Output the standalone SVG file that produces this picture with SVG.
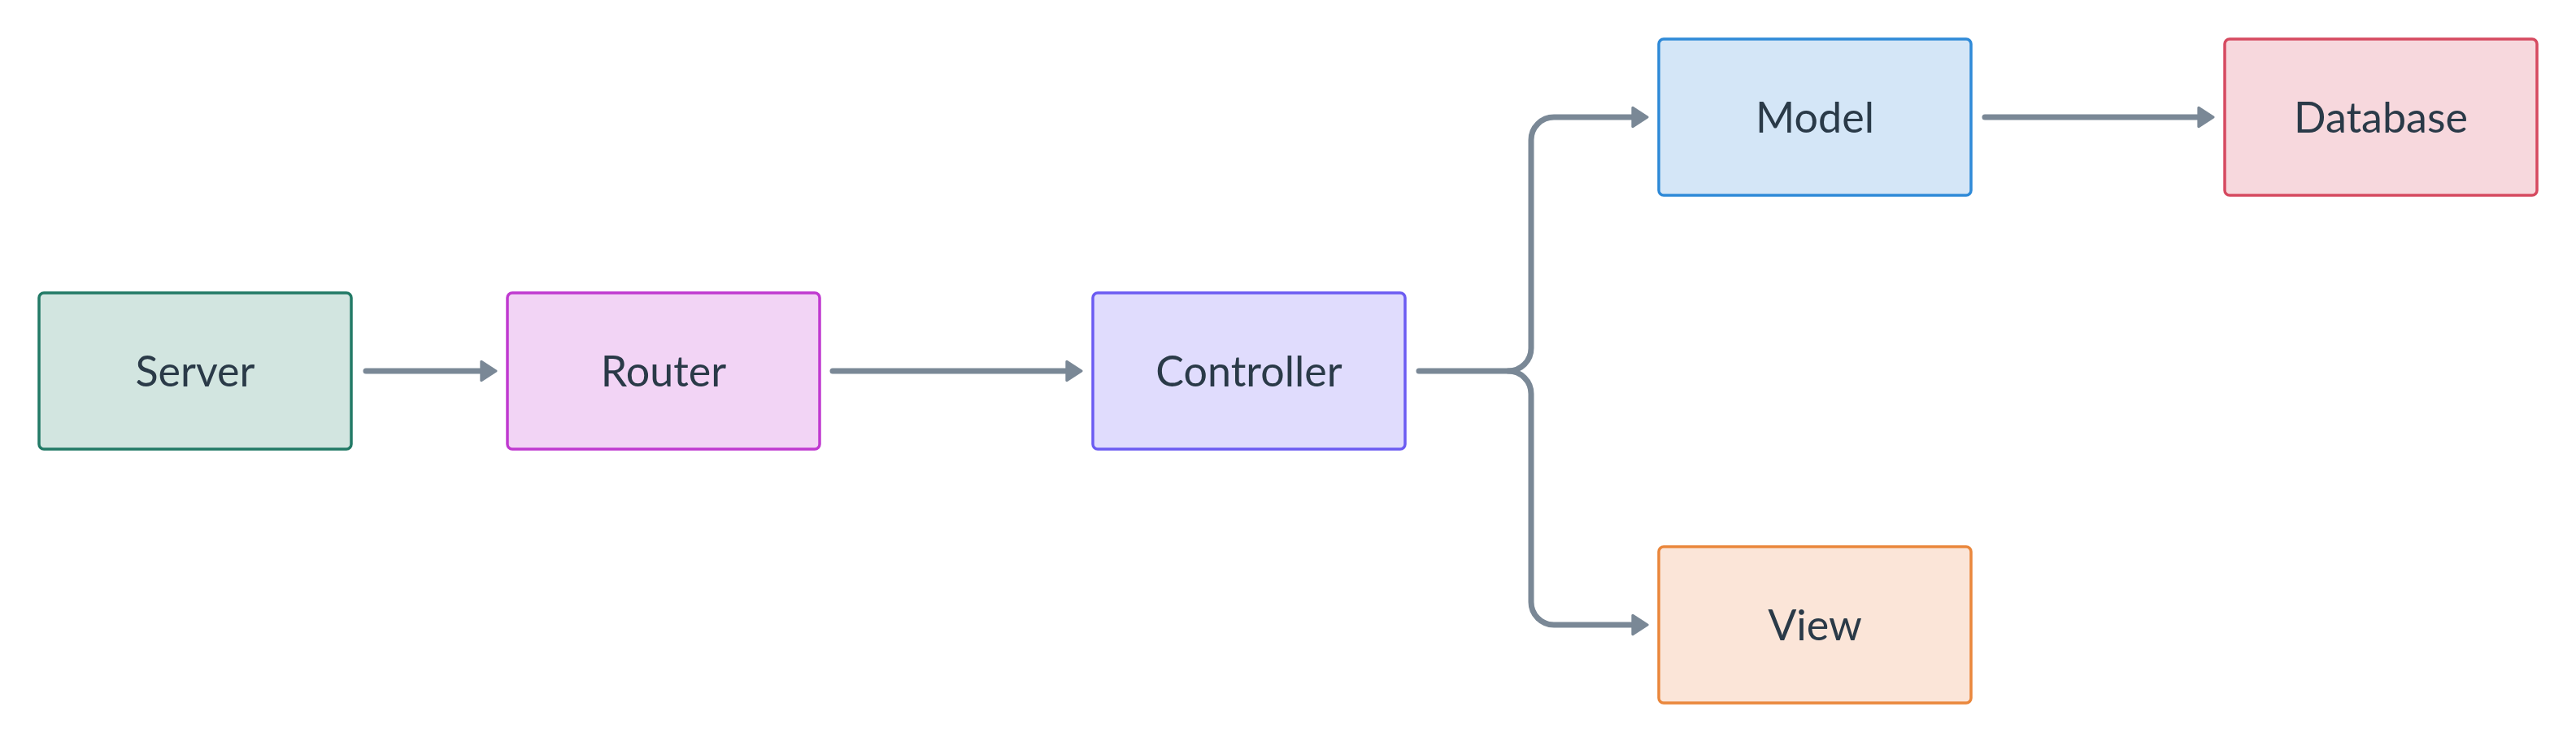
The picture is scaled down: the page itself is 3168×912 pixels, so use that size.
<svg xmlns="http://www.w3.org/2000/svg" width="3168" height="912" viewBox="0 0 3168 912">
<style>
.node rect{stroke-width:3.5}
.node text{font-family:Lato,"Liberation Sans",sans-serif;font-size:52px;fill:#2a3a48;text-anchor:middle}
.edge{fill:none;stroke:#7a8896;stroke-width:7;stroke-linecap:round;stroke-linejoin:round;marker-end:url(#arrow)}
</style>
<defs>
<marker id="arrow" markerUnits="userSpaceOnUse" markerWidth="30" markerHeight="34" viewBox="-4 -16 26 32" refX="1" refY="0" orient="auto">
<path d="M0,-11 L17,0 L0,11 Z" fill="#7a8896" stroke="#7a8896" stroke-width="3" stroke-linejoin="round"/>
</marker>
</defs>
<rect width="3168" height="912" fill="#ffffff"/>
<g id="connectors">
<path class="edge" d="M450,456 L593,456"/>
<path class="edge" d="M1024,456 L1313,456"/>
<path class="edge" d="M1745,456 L1855,456 A28,28 0 0 0 1883,428 L1883,172 A28,28 0 0 1 1911,144 L2009,144"/>
<path class="edge" d="M1855,456 A28,28 0 0 1 1883,484 L1883,740 A28,28 0 0 0 1911,768 L2009,768"/>
<path class="edge" d="M2441,144 L2705,144"/>
</g>
<g id="server" class="node">
<rect x="48" y="360" width="384" height="192" rx="6" fill="#d2e5e0" stroke="#227a66"/>
<text x="240" y="475">Server</text>
</g>
<g id="router" class="node">
<rect x="624" y="360" width="384" height="192" rx="6" fill="#f2d4f5" stroke="#c03ad0"/>
<text x="816" y="475">Router</text>
</g>
<g id="controller" class="node">
<rect x="1344" y="360" width="384" height="192" rx="6" fill="#e0dcfd" stroke="#6c5cf2"/>
<text x="1536" y="475">Controller</text>
</g>
<g id="model" class="node">
<rect x="2040" y="48" width="384" height="192" rx="6" fill="#d4e6f7" stroke="#2f8ad8"/>
<text x="2232" y="163">Model</text>
</g>
<g id="database" class="node">
<rect x="2736" y="48" width="384" height="192" rx="6" fill="#f7d8dd" stroke="#d64a60"/>
<text x="2928" y="163">Database</text>
</g>
<g id="view" class="node">
<rect x="2040" y="672" width="384" height="192" rx="6" fill="#fbe5d8" stroke="#ea873c"/>
<text x="2232" y="787">View</text>
</g>
</svg>
